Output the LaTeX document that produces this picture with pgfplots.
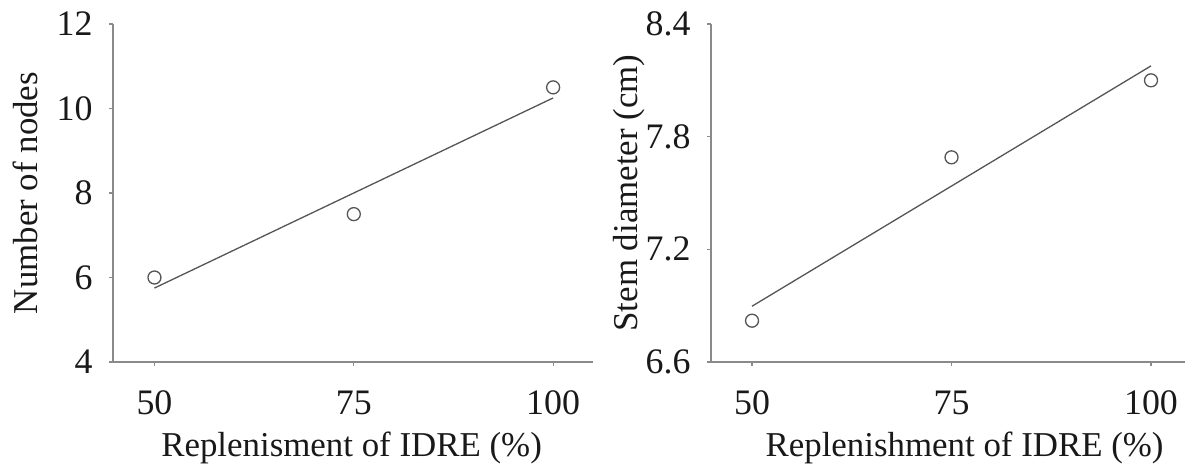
\documentclass[border=0pt]{standalone}
\usepackage{pgfplots}
\pgfplotsset{compat=1.18}
\usepackage{fontspec}
\setmainfont{Liberation Serif}
\definecolor{axgray}{HTML}{8A8A8A}
\definecolor{lngray}{HTML}{555555}
\pgfplotsset{
  common/.style={
    scale only axis,
    axis lines*=left,
    axis line style={axgray, line width=1.2bp},
    tick style={axgray, line width=1.2bp},
    tick align=outside,
    major tick length=4bp,
    every tick label/.append style={font=\fontsize{36}{40}\selectfont, text=black!90},
    label style={font=\fontsize{35}{40}\selectfont, text=black!90},
    /pgf/number format/assume math mode=true,
    xtick={50,75,100},
    xticklabel style={yshift=-21bp},
    yticklabel style={xshift=-13bp},
    clip=false,
  },
  datapts/.style={only marks, mark=o, mark size=6.5bp, mark options={lngray, line width=1.3bp}},
  fitline/.style={lngray, line width=1.3bp, no marks},
}
\begin{document}
\begin{tikzpicture}
\useasboundingbox (0,0) rectangle (1185bp,474bp);
\begin{axis}[common,
  at={(113bp,112bp)}, anchor=south west,
  width=480bp, height=338bp,
  xmin=44.8, xmax=105,
  ymin=4, ymax=12, ytick={4,6,8,10,12},
  xlabel={Replenisment of IDRE (\%)},
  ylabel={Number of nodes},
  xlabel style={at={(axis description cs:0.497,-0.281)}, anchor=base},
  ylabel style={at={(axis description cs:-0.158,0.5)}, anchor=base},
]
\addplot[datapts] coordinates {(50,6.0) (75,7.5) (100,10.5)};
\addplot[fitline] coordinates {(50,5.75) (100,10.25)};
\end{axis}
\begin{axis}[common,
  at={(711bp,112bp)}, anchor=south west,
  width=474bp, height=338bp,
  xmin=44.86, xmax=104.26,
  ymin=6.6, ymax=8.4, ytick={6.6,7.2,7.8,8.4},
  yticklabel style={/pgf/number format/.cd, fixed, fixed zerofill, precision=1},
  xlabel={Replenishment of IDRE (\%)},
  ylabel={Stem diameter (cm)},
  xlabel style={at={(axis description cs:0.535,-0.281)}, anchor=base},
  ylabel style={at={(axis description cs:-0.155,0.5)}, anchor=base},
]
\addplot[datapts] coordinates {(50,6.82) (75,7.69) (100,8.10)};
\addplot[fitline] coordinates {(50,6.897) (100,8.177)};
\end{axis}
\end{tikzpicture}
\end{document}
